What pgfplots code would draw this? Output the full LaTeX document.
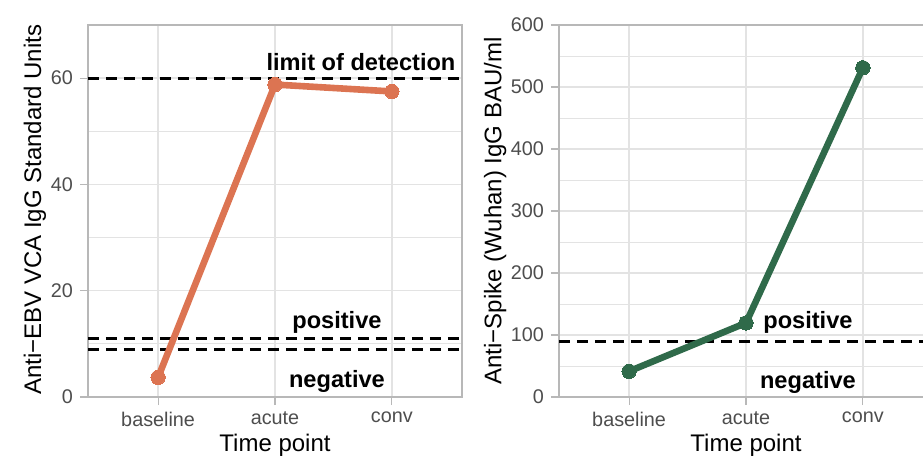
\documentclass[border=0pt]{standalone}
\usepackage{fontspec}
\setmainfont{Liberation Sans}
\usepackage{pgfplots}
\pgfplotsset{compat=1.18}

\definecolor{ebv}{HTML}{DC7452}
\definecolor{spike}{HTML}{2F6A4A}
\definecolor{gridc}{HTML}{E3E3E3}
\definecolor{frame}{HTML}{B8B8B8}
\definecolor{tickc}{HTML}{4D4D4D}

\tikzset{
  dline/.style={black, line width=1.4pt, dash pattern=on 5.5pt off 3.5pt},
  ann/.style={font=\fontsize{11.8}{13}\selectfont\bfseries, anchor=base},
}

\pgfplotsset{
  panel/.style={
    scale only axis, width=187pt, height=186pt,
    anchor=south west,
    xmin=0.4, xmax=3.6, ymin=0,
    xtick={1,2,3}, xticklabels={baseline,acute,conv},
    xtick pos=lower, ytick pos=left,
    tick align=outside, major tick length=4pt, minor tick length=0pt,
    tick style={frame, line width=0.6pt},
    axis line style={frame, line width=0.6pt},
    xmajorgrids, ymajorgrids, yminorgrids,
    major grid style={gridc, line width=0.7pt},
    minor grid style={gridc, line width=0.4pt},
    /pgf/number format/assume math mode=true,
    ticklabel style={font=\fontsize{9.9}{11}\selectfont, text=tickc},
    label style={font=\fontsize{12}{14}\selectfont},
    xlabel={Time point},
    xlabel style={at={(axis description cs:0.5,-0.13)}, anchor=center},
    clip=false,
  },
  series/.style={#1, line width=3.3pt, mark=*, mark size=3.6pt,
    mark options={fill=#1, draw=#1, line width=0pt}},
}

\begin{document}
\begin{tikzpicture}
\begin{axis}[panel, at={(44pt,30pt)},
    ymax=70, ytick={0,20,40,60}, minor ytick={10,30,50},
    ylabel={Anti−EBV VCA IgG Standard Units},
    ylabel style={at={(axis description cs:-0.142,0.503)}, anchor=center}]
\addplot[dline] coordinates {(0.4,60) (3.6,60)};
\addplot[dline] coordinates {(0.4,11) (3.6,11)};
\addplot[dline] coordinates {(0.4,9) (3.6,9)};
\addplot[series=ebv] coordinates {(1,3.7) (2,58.8) (3,57.5)};
\node[ann] at (axis cs:2.736,61.4) {limit of detection};
\node[ann] at (axis cs:2.53,12.8) {positive};
\node[ann] at (axis cs:2.53,1.7) {negative};
\end{axis}

\begin{axis}[panel, at={(279.5pt,30pt)},
    ymax=600, ytick={0,100,...,600}, minor ytick={50,150,...,550},
    ylabel={Anti−Spike (Wuhan) IgG BAU/ml},
    ylabel style={at={(axis description cs:-0.171,0.5)}, anchor=center}]
\addplot[dline] coordinates {(0.4,90) (3.6,90)};
\addplot[series=spike] coordinates {(1,41.5) (2,119.5) (3,531)};
\node[ann] at (axis cs:2.53,109.7) {positive};
\node[ann] at (axis cs:2.53,14.5) {negative};
\end{axis}
\pgfresetboundingbox
\path[use as bounding box] (0,0) rectangle (461.5pt,228.5pt);
\end{tikzpicture}
\end{document}
